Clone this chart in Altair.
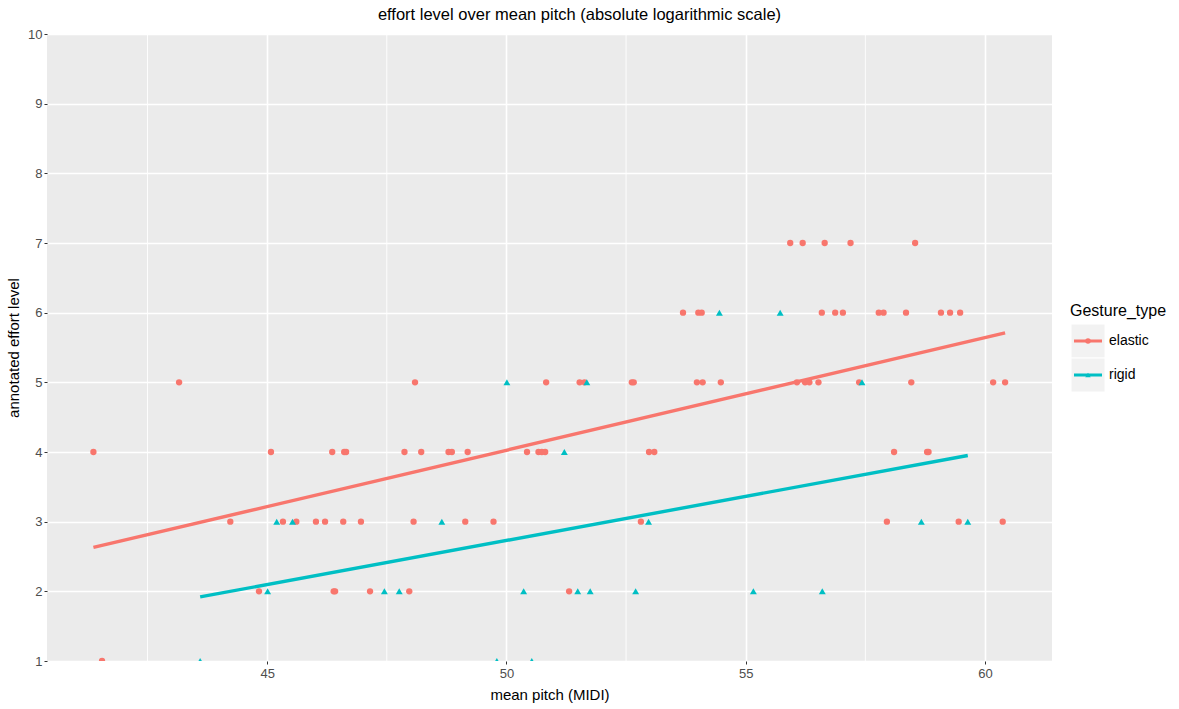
import altair as alt
import pandas as pd

# ---- data ----
categories = ["elastic", "rigid"]
colors = ["#F8766D", "#00BFC4"]
shapes = ["circle", "triangle-up"]
marker_sizes = [40, 48]

elastic_x = [55.93, 56.19, 56.65, 57.19, 58.54,
             53.69, 54.01, 54.08, 56.59, 56.87, 57.03, 57.78, 57.88, 58.35, 59.08, 59.27, 59.48,
             43.16, 48.09, 50.83, 51.53, 51.63, 52.62, 52.66, 53.98, 54.10, 54.48, 56.07, 56.24,
             56.33, 56.52, 57.37, 58.46, 60.17, 60.42,
             41.37, 45.08, 46.36, 46.61, 46.65, 47.87, 48.22, 48.79, 48.86, 49.19, 50.43, 50.67,
             50.74, 50.81, 52.98, 53.09, 58.10, 58.79, 58.82,
             44.23, 45.33, 45.61, 46.02, 46.21, 46.59, 46.96, 48.06, 49.14, 49.73, 52.81, 57.95,
             59.45, 60.37,
             44.83, 46.39, 46.42, 47.15, 47.97, 51.31,
             41.55]
elastic_y = [7] * 5 + [6] * 12 + [5] * 18 + [4] * 19 + [3] * 14 + [2] * 6 + [1] * 1

rigid_x = [54.45, 55.72,
           50.01, 51.68, 57.43,
           51.21,
           45.20, 45.53, 48.65, 52.97, 58.67, 59.64,
           45.01, 47.45, 47.76, 50.36, 51.49, 51.75, 52.70, 55.16, 56.60,
           43.60, 49.80, 50.53]
rigid_y = [6] * 2 + [5] * 3 + [4] * 1 + [3] * 6 + [2] * 9 + [1] * 3

fit_elastic_x = [41.37, 60.42]
fit_elastic_y = [2.63, 5.71]
fit_rigid_x = [43.60, 59.64]
fit_rigid_y = [1.92, 3.95]

x_ticks = [45, 50, 55, 60]
x_minor = [42.5, 47.5, 52.5, 57.5]
y_ticks = list(range(1, 11))

# ---- tables ----
pts = pd.DataFrame({
    "x": elastic_x + rigid_x,
    "y": elastic_y + rigid_y,
    "Gesture_type": ["elastic"] * len(elastic_x) + ["rigid"] * len(rigid_x),
})
fits = pd.DataFrame({
    "x": fit_elastic_x + fit_rigid_x,
    "y": fit_elastic_y + fit_rigid_y,
    "Gesture_type": ["elastic"] * len(fit_elastic_x) + ["rigid"] * len(fit_rigid_x),
})

W, H = 1005, 627
FONT = "Liberation Sans"

xscale = alt.Scale(domain=[40.4, 61.4], nice=False, zero=False)
yscale = alt.Scale(domain=[1, 10], nice=False, zero=False)

xaxis = alt.Axis(values=x_ticks, title="mean pitch (MIDI)", grid=True, gridColor="white",
                 gridWidth=1.6, domain=False, tickColor="#333333", tickSize=3, tickWidth=1,
                 labelColor="#4d4d4d", labelFontSize=13, labelPadding=3, labelFont=FONT,
                 titleFont=FONT, titleFontSize=15, titleFontWeight="normal",
                 titleColor="black", titlePadding=7)
yaxis = alt.Axis(values=y_ticks, title="annotated effort level", grid=True, gridColor="white",
                 gridWidth=1.6, domain=False, tickColor="#333333", tickSize=3, tickWidth=1,
                 labelColor="#4d4d4d", labelFontSize=13, labelPadding=2, labelFont=FONT,
                 titleFont=FONT, titleFontSize=15, titleFontWeight="normal",
                 titleColor="black", titlePadding=6)

color = alt.Color("Gesture_type:N", scale=alt.Scale(domain=categories, range=colors), legend=None)
shape = alt.Shape("Gesture_type:N", scale=alt.Scale(domain=categories, range=shapes), legend=None)
size = alt.Size("Gesture_type:N", scale=alt.Scale(domain=categories, range=marker_sizes), legend=None)

minor = alt.Chart(pd.DataFrame({"x": x_minor})).mark_rule(color="white", strokeWidth=0.9).encode(
    x=alt.X("x:Q", scale=xscale, axis=xaxis)
)

points = alt.Chart(pts).mark_point(filled=True, opacity=1, clip=True).encode(
    x=alt.X("x:Q", scale=xscale, axis=xaxis),
    y=alt.Y("y:Q", scale=yscale, axis=yaxis),
    color=color,
    shape=shape,
    size=size,
)

lines = alt.Chart(fits).mark_line(strokeWidth=3.4, clip=True).encode(
    x=alt.X("x:Q", scale=xscale, axis=xaxis),
    y=alt.Y("y:Q", scale=yscale, axis=yaxis),
    color=color,
    detail="Gesture_type:N",
)

# ---- manual legend (ggplot style keys) ----
legend_layers = []
legend_title = alt.Chart(pd.DataFrame({"t": ["Gesture_type"]})).mark_text(
    align="left", baseline="middle", font=FONT, fontSize=16, color="black"
).encode(text="t:N", x=alt.value(1023), y=alt.value(277))
legend_layers.append(legend_title)
for i, cat in enumerate(categories):
    d = pd.DataFrame({"Gesture_type": [cat]})
    top = 290 + 34 * i
    key = alt.Chart(d).mark_rect(fill="#F2F2F2", stroke="white", strokeWidth=1).encode(
        x=alt.value(1024), x2=alt.value(1058), y=alt.value(top), y2=alt.value(top + 34))
    ln = alt.Chart(d).mark_rule(strokeWidth=3, color=colors[i]).encode(
        x=alt.value(1027), x2=alt.value(1055), y=alt.value(top + 17))
    pt = alt.Chart(d).mark_point(filled=True, size=30, opacity=1, color=colors[i],
                                 shape=shapes[i]).encode(x=alt.value(1041), y=alt.value(top + 17))
    tx = alt.Chart(d).mark_text(align="left", baseline="middle", font=FONT, fontSize=14,
                                color="black").encode(text="Gesture_type:N",
                                                      x=alt.value(1062), y=alt.value(top + 17))
    legend_layers += [key, ln, pt, tx]

chart = alt.layer(minor, points, lines, *legend_layers).properties(
    width=W,
    height=H,
    background="white",
    title=alt.TitleParams("effort level over mean pitch (absolute logarithmic scale)",
                          font=FONT, fontSize=16.5, fontWeight="normal", color="black",
                          anchor="middle", dx=30, offset=5),
    autosize=alt.AutoSizeParams(type="none"),
    padding={"left": 47, "top": 34, "right": 127, "bottom": 48},
).configure_view(fill="#EBEBEB", stroke=None)

chart.save("out.html", embed_options={"renderer": "svg", "actions": False})
